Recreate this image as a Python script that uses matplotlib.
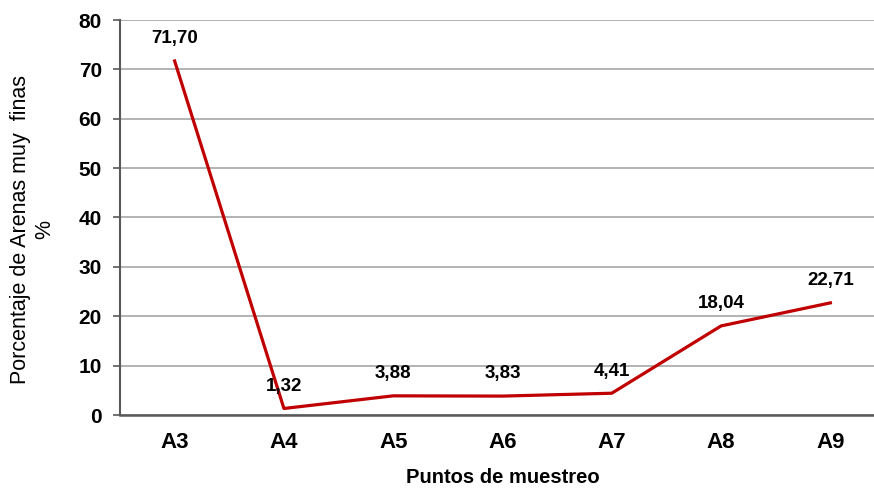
import numpy as np
import matplotlib.pyplot as plt

plt.rcParams['font.family'] = ['Liberation Sans', 'DejaVu Sans']

puntos = ['A3', 'A4', 'A5', 'A6', 'A7', 'A8', 'A9']
arenas = [71.70, 1.32, 3.88, 3.83, 4.41, 18.04, 22.71]
etiquetas = ['71,70', '1,32', '3,88', '3,83', '4,41', '18,04', '22,71']

fig = plt.figure(figsize=(8.74, 4.90), dpi=100)
ax = fig.add_axes([120 / 874, 75 / 490, 765 / 874, 395 / 490])

x = np.arange(len(puntos))
ax.plot(x, arenas, color='#C00000', linewidth=2.3, zorder=3)

for xi, yi, t in zip(x, arenas, etiquetas):
    ax.annotate(t, (xi, yi), xytext=(0, 16), textcoords='offset points',
                ha='center', va='center', fontsize=13.5, fontweight='bold',
                color='black', zorder=4)

ax.set_xlim(-0.5, len(puntos) - 0.5)
ax.set_ylim(0, 80)
ax.set_yticks(range(0, 81, 10))
ax.set_xticks(x)
ax.set_xticklabels(puntos)
ax.grid(axis='y', color='#a6a6a6', linewidth=1.2)
ax.set_axisbelow(True)

for s in ['top', 'right']:
    ax.spines[s].set_visible(False)
ax.spines['left'].set_color('#595959')
ax.spines['left'].set_linewidth(1.5)
ax.spines['bottom'].set_color('#595959')
ax.spines['bottom'].set_linewidth(1.8)

ax.tick_params(axis='y', length=5, width=1.2, color='#595959', labelsize=15, pad=8)
ax.tick_params(axis='x', length=0, labelsize=16, pad=12)
for lab in ax.get_xticklabels() + ax.get_yticklabels():
    lab.set_fontweight('bold')

ax.set_xlabel('Puntos de muestreo', fontsize=14.5, fontweight='bold', labelpad=11)
ax.set_ylabel('Porcentaje de Arenas muy  finas\n%', fontsize=15.5, linespacing=1.25)
ax.yaxis.set_label_coords(-0.084, 0.47)

fig.savefig('out.png', dpi=100)
